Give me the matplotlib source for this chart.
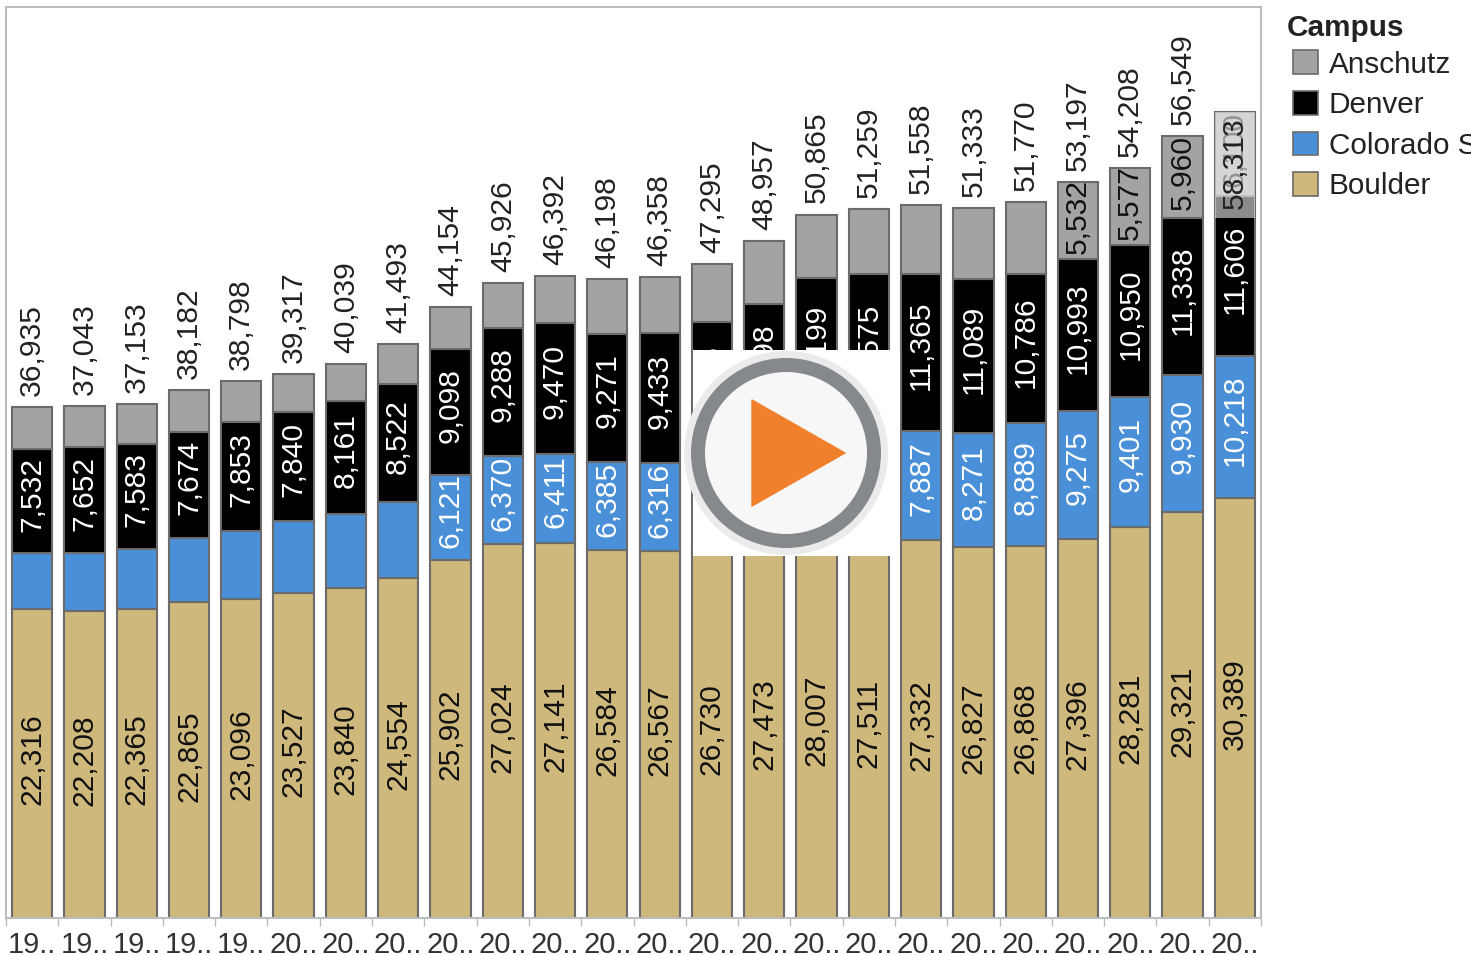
import matplotlib
matplotlib.use('Agg')
import numpy as np
import matplotlib.pyplot as plt
from matplotlib.patches import Rectangle, Circle, Polygon, Patch

plt.rcParams['font.family'] = ['Liberation Sans', 'DejaVu Sans']

year_labels = ['19..'] * 5 + ['20..'] * 19
boulder = [22316, 22208, 22365, 22865, 23096, 23527, 23840, 24554, 25902, 27024, 27141, 26584,
           26567, 26730, 27473, 28007, 27511, 27332, 26827, 26868, 27396, 28281, 29321, 30389]
colorado_springs = [4050, 4190, 4340, 4630, 4920, 5200, 5350, 5500, 6121, 6370, 6411, 6385,
                    6316, 6600, 6631, 7104, 7473, 7887, 8271, 8889, 9275, 9401, 9930, 10218]
denver = [7532, 7652, 7583, 7674, 7853, 7840, 8161, 8522, 9098, 9288, 9470, 9271,
          9433, 9775, 10298, 11199, 11575, 11365, 11089, 10786, 10993, 10950, 11338, 11606]
anschutz = [3037, 2993, 2865, 3013, 2929, 2750, 2688, 2917, 3033, 3244, 3370, 3958,
            4042, 4190, 4555, 4555, 4700, 4974, 5146, 5227, 5532, 5577, 5960, 6100]
totals = [36935, 37043, 37153, 38182, 38798, 39317, 40039, 41493, 44154, 45926, 46392, 46198,
          46358, 47295, 48957, 50865, 51259, 51558, 51333, 51770, 53197, 54208, 56549, 58313]

BOULDER = '#cfb87c'
SPRINGS = '#4a90d9'
DENVER = '#000000'
ANSCHUTZ = '#a2a4a3'
EDGE = '#6b6b6b'
MIN_LABEL = 5520  # smaller segments have no room for a label
LABEL_SIZE = 21.6

W, H = 1471, 955
fig = plt.figure(figsize=(W / 100, H / 100), dpi=100)
ax = fig.add_axes([6 / W, 1 - 918 / H, 1255 / W, 911 / H])

x = np.arange(len(totals))
series = [(boulder, BOULDER, '#111111', 3), (colorado_springs, SPRINGS, 'white', 5),
          (denver, DENVER, 'white', 5), (anschutz, ANSCHUTZ, '#111111', 3)]
bottom = np.zeros(len(totals))
for vals, col, txt_col, lift in series:
    vals = np.array(vals)
    ax.bar(x, vals, 0.77, bottom=bottom, color=col, edgecolor=EDGE, linewidth=1.5, zorder=2)
    for i, v in enumerate(vals):
        if v >= MIN_LABEL:
            ax.annotate('{:,}'.format(v), (i, bottom[i] + v / 2), xytext=(0, lift), textcoords='offset points',
                        rotation=90, ha='center', va='center', color=txt_col, fontsize=LABEL_SIZE, zorder=3)
    bottom = bottom + vals

# the last bar is highlighted: a pale box lies over its top
ax.bar(x[-1], totals[-1] - 50600, 0.77, bottom=50600, color='white', alpha=0.55, linewidth=0, zorder=4)

for i, t in enumerate(totals):
    if i == len(totals) - 1:
        ax.text(i, 54600, '{:,}'.format(t), rotation=90, ha='center', va='center',
                color='#222222', fontsize=LABEL_SIZE, zorder=5)
    else:
        ax.annotate('{:,}'.format(t), (i, t), xytext=(0, 8), textcoords='offset points', rotation=90,
                    ha='center', va='bottom', color='#222222', fontsize=LABEL_SIZE, zorder=3)

ax.set_xlim(-0.5, len(totals) - 0.5)
ax.set_ylim(0, 65870)
ax.set_yticks([])
ax.set_xticks(x)
ax.set_xticklabels(year_labels, fontsize=21, color='#333333')
ax.set_xticks(np.arange(len(totals) + 1) - 0.5, minor=True)
ax.tick_params(axis='x', which='major', length=0, pad=9)
ax.tick_params(axis='x', which='minor', length=5.5, width=1, color='#bbbbbb')
for s in ax.spines.values():
    s.set_color('#bdbdbd')
    s.set_linewidth(1.5)

fig.text(1287 / W, 1 - 28 / H, 'Campus', fontsize=21.4, fontweight='bold', color='#222222',
         ha='left', va='center')
handles = [Patch(facecolor=c, edgecolor=EDGE, linewidth=1.2) for c in [ANSCHUTZ, DENVER, SPRINGS, BOULDER]]
leg = fig.legend(handles, ['Anschutz', 'Denver', 'Colorado Springs', 'Boulder'],
                 loc='upper left', bbox_to_anchor=(1293 / W, 1 - 50.5 / H), frameon=False, fontsize=21.4,
                 labelcolor='#222222', handlelength=0.84, handleheight=0.84, handletextpad=0.37,
                 labelspacing=0.42, borderpad=0, borderaxespad=0)

# video play button pasted on top of the chart, in image pixels
over = fig.add_axes([0, 0, 1, 1], zorder=10)
over.set_xlim(0, W)
over.set_ylim(H, 0)
over.axis('off')
over.add_patch(Rectangle((693, 350), 207, 206, facecolor='white', edgecolor='none'))
over.add_patch(Circle((786, 453), 102, facecolor='#ebebeb', edgecolor='none'))
over.add_patch(Circle((786, 453), 95, facecolor='#85888c', edgecolor='none'))
over.add_patch(Circle((786, 453), 81, facecolor='#f7f7f7', edgecolor='none'))
over.add_patch(Polygon([(752, 400), (752, 506), (845, 453)], closed=True, facecolor='#f0802b',
                       edgecolor='#f0802b', linewidth=1, joinstyle='round'))

fig.savefig('out.png', dpi=100)
